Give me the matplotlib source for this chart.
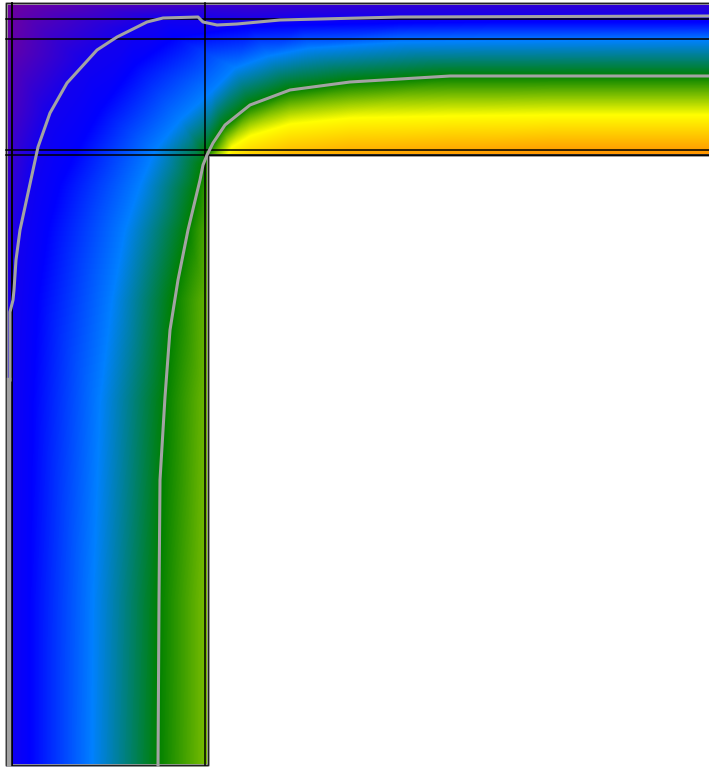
# thermal bridge picture: isotherm field on an L shaped section
import matplotlib
matplotlib.use('Agg')
import matplotlib.pyplot as plt
import matplotlib.tri as mtri
import numpy as np
from matplotlib.colors import LinearSegmentedColormap

# isotherm rows, from the outer edge to the inner edge
outer_x = [6, 6, 6, 6, 6, 6, 6, 6, 6, 60, 250, 300, 400, 500, 709]
outer_y = [767, 600, 400, 300, 230, 170, 110, 50, 3, 3, 3, 3, 3, 3, 3]
outer_t = [.17, .17, .16, .14, .12, .1, .07, .04, .02, .05, .1, .11, .12, .12, .12]

low_x = [8, 8, 9, 14, 20, 30, 48, 85, 130, 165, 250, 300, 400, 500, 709]
low_y = [767, 600, 400, 300, 230, 170, 115, 62, 30, 18, 22, 19, 17, 16.5, 16]
low_t = [.17] * 15

blue_x = [30, 30, 33, 38, 48, 60, 72, 100, 135, 175, 250, 300, 400, 500, 709]
blue_y = [767, 600, 400, 300, 230, 185, 160, 110, 65, 37, 27, 25, 23, 22, 22]
blue_t = [.2] * 15

sky_x = [92, 93, 100, 112, 125, 140, 155, 180, 213, 235, 268, 310, 400, 500, 709]
sky_y = [767, 600, 400, 300, 230, 185, 150, 120, 90, 68, 56, 48, 42, 41, 40]
sky_t = [.35] * 15

green_x = [158, 159, 165, 173, 188, 197, 203, 206, 222, 250, 290, 350, 450, 550, 709]
green_y = [767, 600, 400, 300, 230, 190, 165, 153, 128, 105, 90, 82, 76, 76, 76]
green_t = [.5] * 15

yellow_x = [206.5, 206.5, 206.5, 206.5, 206.5, 206.5, 206.5, 207.5, 232, 250, 290, 350, 450, 550, 709]
yellow_y = [767, 600, 400, 300, 230, 190, 165, 154.5, 147, 136, 124, 118, 116, 115, 115]
yellow_t = [.62, .62, .61, .6, .58, .56, .54, .52, .75, .75, .75, .75, .75, .75, .75]

inner_x = [208, 208, 208, 208, 208, 208, 208, 208, 232, 250, 290, 350, 450, 550, 709]
inner_y = [767, 600, 400, 300, 230, 190, 165, 156, 156, 156, 156, 156, 156, 156, 156]
inner_t = [.63, .63, .62, .61, .59, .57, .55, .55, .8, .85, .9, .93, .95, .97, .97]

# grey isolines, finer than the rows above
line1_x = [10, 10, 13, 14, 16, 20, 38, 50, 67, 97, 117, 147, 163, 198, 203, 217, 237, 280, 400, 709]
line1_y = [380, 312, 300, 290, 260, 230, 147, 113, 83, 50, 37, 22, 18, 17, 22, 25, 24, 20, 17, 16]
line1_low_x = [8.5, 8.5]
line1_low_y = [767, 380]
line2_x = [158, 159, 160, 165, 170, 178, 188, 200, 203, 207, 213, 225, 250, 290, 350, 450, 709]
line2_y = [767, 600, 480, 397, 330, 280, 230, 180, 165, 155, 143, 125, 105, 90, 82, 76, 76]

# black construction lines
hlines_y = [19, 39, 150, 155]
vlines_x = [12, 205]

cmap_pos = [0, .2, .35, .5, .75, 1]
cmap_col = ['#800090', '#0000ff', '#0080ff', '#008000', '#ffff00', '#ff8000']

X = np.array([outer_x, low_x, blue_x, sky_x, green_x, yellow_x, inner_x], dtype=float)
Y = np.array([outer_y, low_y, blue_y, sky_y, green_y, yellow_y, inner_y], dtype=float)
T = np.array([outer_t, low_t, blue_t, sky_t, green_t, yellow_t, inner_t], dtype=float)

nr, nc = X.shape
tris = []
for r in range(nr - 1):
    for c in range(nc - 1):
        a = r * nc + c
        b = a + 1
        d = a + nc
        e = d + 1
        tris.append([a, b, d])
        tris.append([b, e, d])
tri = mtri.Triangulation(X.ravel(), Y.ravel(), tris)
interp = mtri.LinearTriInterpolator(tri, T.ravel())

px, py = np.meshgrid(np.arange(709) + .5, np.arange(767) + .5)
field = interp(px, py)

cmap = LinearSegmentedColormap.from_list('therm', list(zip(cmap_pos, cmap_col)), N=512)

fig = plt.figure(figsize=(7.09, 7.67), dpi=100)
ax = fig.add_axes([0, 0, 1, 1])
ax.imshow(field, cmap=cmap, vmin=0, vmax=1, extent=[0, 709, 767, 0],
          interpolation='bilinear', aspect='auto')

# outline with the soft grey halo of the upscaled picture
edge_x = [709, 6, 6, 208, 208, 709]
edge_y = [3, 3, 765, 765, 155, 155]
ax.plot(edge_x, edge_y, color='#b5b5b5', lw=2)
ax.plot(edge_x, edge_y, color='#222222', lw=1)

for y in hlines_y:
    ax.plot([6, 709], [y, y], color='black', lw=1.1)
for x in vlines_x:
    ax.plot([x, x], [3, 765], color='black', lw=1.1)
ax.plot([12, 12], [3, 765], color='black', lw=1.1)

ax.plot(line1_x, line1_y, color='#a3a3a3', lw=2.2)
ax.plot(line1_low_x, line1_low_y, color='#a3a3a3', lw=3.2)
ax.plot(line2_x, line2_y, color='#a3a3a3', lw=2.2)

ax.set_xlim(0, 709)
ax.set_ylim(767, 0)
ax.axis('off')
fig.savefig('out.png', dpi=100)
